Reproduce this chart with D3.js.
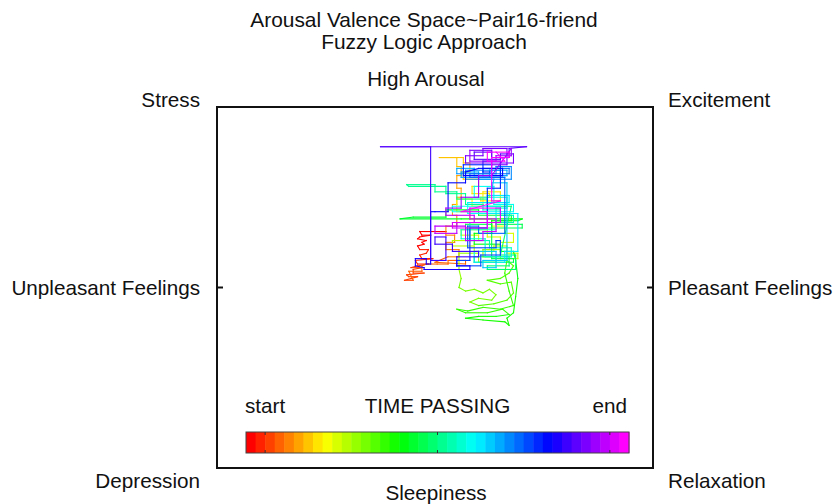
<!DOCTYPE html>
<html>
<head>
<meta charset="utf-8">
<script src="https://cdn.jsdelivr.net/npm/d3@7"></script>
<style>
  html, body { margin: 0; padding: 0; background: #fff; }
  svg { display: block; font-family: "Liberation Sans", Arial, Helvetica, sans-serif; }
</style>
</head>
<body>
<svg id="chart" width="837" height="504"></svg>
<script>
// Title lines and quadrant captions
const titleLines = ["Arousal Valence Space~Pair16-friend", "Fuzzy Logic Approach"];
const axisTop = "High Arousal";
const axisBottom = "Sleepiness";
const axisLeft = "Unpleasant Feelings";
const axisRight = "Pleasant Feelings";
const cornerLabels = ["Stress", "Excitement", "Depression", "Relaxation"];
const legendLabels = ["start", "TIME PASSING", "end"];
const legendTicks = [0.05, 0.5, 0.95];
const legendSteps = 40;

// Emotion trajectory: [valence, arousal] samples in time order
const phase1 = [
  [0.02,0.31],[0.05,0.31],[-0.07,0.31],[-0.06,0.29],[-0.02,0.29],[-0.07,0.28],
  [-0.08,0.27],[-0.04,0.26],[-0.06,0.25],[-0.05,0.24],[-0.08,0.23],[-0.07,0.21],
  [-0.03,0.21],[-0.04,0.19],[-0.07,0.18],[-0.06,0.16],[-0.01,0.16],[-0.09,0.15],
  [-0.08,0.13],[-0.03,0.13],[-0.08,0.12],[-0.11,0.11],[-0.06,0.11],[-0.10,0.10],
  [-0.10,0.08],[-0.05,0.08],[-0.13,0.07],[-0.12,0.06],[-0.08,0.06],[-0.11,0.05],
  [-0.14,0.04],[-0.10,0.04],[-0.12,0.09],[-0.06,0.09],[-0.06,0.12]
];
const phase2 = [
  [-0.04,0.13],[0.01,0.13],[0.06,0.13],[0.06,0.15],[0.14,0.15],[0.14,0.13],
  [0.00,0.14],[0.06,0.17],[0.11,0.17],[0.11,0.21],[0.05,0.21],[0.05,0.25],
  [0.09,0.25],[0.09,0.29],[0.05,0.29],[0.05,0.34],[0.10,0.34],[0.10,0.40],
  [0.08,0.40],[0.08,0.46],[0.10,0.46],[0.10,0.50],[0.12,0.50],[0.12,0.55],
  [0.10,0.55],[0.10,0.62],[0.12,0.62],[0.12,0.67],[0.10,0.67],[0.10,0.72],
  [0.02,0.72],[0.13,0.72],[0.13,0.69],[0.16,0.69],[0.16,0.64],[0.13,0.64]
];
const phase3 = [
  [0.13,0.60],[0.20,0.60],[0.20,0.56],[0.17,0.56],[0.17,0.52],[0.25,0.52],
  [0.25,0.50],[0.21,0.50],[0.21,0.48],[0.30,0.48],[0.30,0.53],[0.22,0.53],
  [0.22,0.45],[0.17,0.45],[0.17,0.49],[0.10,0.49],[0.10,0.42],[0.16,0.42],
  [0.16,0.38],[0.26,0.38],[0.26,0.34],[0.32,0.34],[0.32,0.30],[0.36,0.30],
  [0.36,0.25],[0.30,0.25],[0.30,0.28],[0.24,0.28],[0.24,0.32],[0.12,0.32],
  [0.12,0.29],[0.20,0.29],[0.20,0.26],[0.08,0.26],[0.08,0.23],[0.18,0.23],
  [0.18,0.20],[0.27,0.20],[0.27,0.23],[0.33,0.23],[0.33,0.19],[0.38,0.19],
  [0.38,0.16],[0.30,0.16],[0.30,0.21]
];
const phase4 = [
  [0.22,0.21],[0.22,0.17],[0.28,0.17],[0.28,0.14],[0.20,0.14],[0.20,0.19],
  [0.11,0.19],[0.11,0.10],[0.12,0.05],[0.11,0.00],[0.14,-0.02],[0.18,-0.01],
  [0.22,-0.03],[0.25,-0.01],[0.28,-0.04],[0.26,-0.07],[0.20,-0.06],[0.16,-0.08],
  [0.20,-0.10],[0.27,-0.09],[0.33,-0.07],[0.36,-0.03],[0.35,0.03],[0.30,0.02],
  [0.24,0.04],[0.30,0.05],[0.34,0.08],[0.36,0.12],[0.33,0.15],[0.32,0.08],
  [0.34,-0.02],[0.36,-0.10],[0.30,-0.12],[0.22,-0.11],[0.15,-0.13],[0.10,-0.12],
  [0.14,-0.14],[0.24,-0.14],[0.31,-0.12],[0.34,-0.15],[0.28,-0.16],[0.20,-0.16],
  [0.14,-0.17],[0.22,-0.18],[0.32,-0.19],[0.34,-0.21],[0.33,-0.17],[0.36,-0.14],
  [0.37,-0.05],[0.38,0.05],[0.37,0.15],[0.36,0.20],[0.30,0.20],[0.30,0.24],
  [0.18,0.24],[0.18,0.30],[0.26,0.30],[0.26,0.37],[0.38,0.37],[0.40,0.38],
  [0.12,0.38],[-0.16,0.38],[-0.10,0.39],[0.05,0.39],[0.05,0.43],[0.20,0.43],
  [0.20,0.40],[0.35,0.40],[0.35,0.37],[0.28,0.37],[0.28,0.35],[0.40,0.35],
  [0.40,0.33],[0.14,0.33],[0.14,0.35],[0.26,0.35],[0.26,0.16],[0.36,0.16],
  [0.36,0.14],[0.18,0.14],[0.18,0.17],[0.34,0.17],[0.34,0.12],[0.24,0.12],
  [0.24,0.10],[0.37,0.10],[0.37,0.18],[0.30,0.18]
];
const phase5 = [
  [0.35,0.45],[0.24,0.45],[0.24,0.49],[0.10,0.49],[0.10,0.53],[0.00,0.53],
  [0.00,0.57],[-0.13,0.57],[-0.12,0.56],[0.05,0.56],[0.05,0.52],[0.14,0.52],
  [0.14,0.46],[0.22,0.46],[0.22,0.43],[0.30,0.43],[0.30,0.40],[0.36,0.40],
  [0.36,0.36],[0.16,0.36],[0.16,0.26],[0.25,0.26],[0.25,0.22],[0.35,0.22],
  [0.35,0.17],[0.23,0.17],[0.23,0.27],[0.12,0.27],[0.12,0.32],[0.28,0.32],
  [0.28,0.44],[0.33,0.44],[0.33,0.50],[0.18,0.50],[0.18,0.56],[0.27,0.56],
  [0.27,0.46],[0.36,0.46],[0.36,0.42],[0.08,0.42],[0.08,0.45],[0.30,0.45],
  [0.30,0.41],[0.15,0.41],[0.15,0.47],[0.34,0.47],[0.34,0.51],[0.24,0.51],
  [0.24,0.41],[0.38,0.41],[0.38,0.20],[0.32,0.20],[0.32,0.14],[0.18,0.14],
  [0.18,0.20],[0.28,0.20],[0.28,0.11],[0.22,0.11],[0.22,0.15],[0.33,0.15],
  [0.33,0.58],[0.26,0.58],[0.26,0.54]
];
const phase6 = [
  [0.27,0.60],[0.20,0.60],[0.20,0.64],[0.12,0.64],[0.12,0.61],[0.25,0.61],
  [0.25,0.65],[0.33,0.65],[0.33,0.62],[0.18,0.62],[0.18,0.66],[0.10,0.66],
  [0.10,0.63],[0.28,0.63],[0.28,0.67],[0.35,0.67],[0.35,0.60],[0.14,0.60],
  [0.14,0.65],[0.30,0.65],[0.30,0.62],[0.22,0.62],[0.22,0.66],[0.34,0.66],
  [0.34,0.63],[0.16,0.63],[0.16,0.61],[0.32,0.61],[0.32,0.40],[0.32,0.30],
  [0.20,0.30],[0.20,0.34],[0.15,0.34],[0.15,0.22],[0.28,0.22],[0.28,0.26],
  [0.30,0.26],[0.30,0.18],[0.21,0.18],[0.21,0.12],[0.10,0.12],[0.10,0.15],
  [0.16,0.15],[0.16,0.33],[0.24,0.33],[0.24,0.55],[0.30,0.55],[0.30,0.70],
  [0.22,0.70],[0.22,0.64],[0.26,0.64],[0.26,0.68],[0.13,0.68],[0.13,0.62],
  [0.31,0.62],[0.31,0.66],[0.20,0.66]
];
const phase7 = [
  [0.14,0.64],[0.14,0.58],[0.06,0.58],[0.06,0.42],[0.00,0.42],[-0.02,0.42],
  [-0.02,0.13],[-0.04,0.13],[-0.04,0.16],[-0.09,0.16],[-0.09,0.12],[-0.05,0.11],
  [-0.05,0.10],[0.16,0.10],[0.16,0.12],[0.10,0.12],[0.10,0.17],[0.20,0.17],
  [0.20,0.20],[0.08,0.20],[0.08,0.24],[0.00,0.24],[0.00,0.28],[0.05,0.28],
  [0.05,0.15],[-0.02,0.15],[-0.02,0.78],[-0.25,0.78],[0.42,0.78],[0.34,0.77],
  [0.34,0.72],[0.26,0.72],[0.26,0.75]
];
const phase8 = [
  [0.18,0.75],[0.18,0.71],[0.30,0.71],[0.30,0.74],[0.36,0.74],[0.36,0.69],
  [0.14,0.69],[0.14,0.73],[0.22,0.73],[0.22,0.77],[0.33,0.77],[0.33,0.68],
  [0.26,0.68],[0.26,0.76],[0.16,0.76],[0.16,0.70],[0.28,0.70],[0.28,0.73],
  [0.35,0.73],[0.35,0.77],[0.26,0.62],[0.20,0.62],[0.20,0.50],[0.12,0.50],
  [0.12,0.44],[0.05,0.44],[0.05,0.40],[0.18,0.40],[0.18,0.36],[0.10,0.36],
  [0.10,0.30],[0.00,0.30],[0.00,0.34],[0.14,0.34],[0.14,0.26],[0.22,0.26],
  [0.22,0.31],[0.28,0.31],[0.28,0.38],[0.16,0.38],[0.16,0.44],[0.30,0.44],
  [0.30,0.36],[0.08,0.36],[0.08,0.33],[0.24,0.33],[0.24,0.42],[0.12,0.42],
  [0.30,0.48],[0.26,0.48],[0.26,0.72],[0.34,0.72],[0.34,0.75],[0.24,0.75],
  [0.24,0.70],[0.32,0.70],[0.28,0.75]
];

const track = [].concat(phase1, phase2, phase3, phase4, phase5, phase6, phase7, phase8);

const svg = d3.select("#chart");
const box = { left: 217, right: 653, top: 107, bottom: 468 };

const x = d3.scaleLinear().domain([-1, 1]).range([box.left, box.right]);
const y = d3.scaleLinear().domain([-1, 1]).range([box.bottom, box.top]);

// Time → hue, stepped like the legend bar (red → magenta)
const stepOf = t => Math.min(legendSteps - 1, Math.floor(t * legendSteps));
const hueScale = d3.scaleLinear().domain([0, legendSteps - 1]).range([0, 300]);
const stepColor = k => d3.hsl(hueScale(k), 1, 0.5).formatHex();

const FS = 20.7;

// Titles
svg.selectAll("text.title")
  .data(titleLines)
  .join("text")
  .attr("class", "title")
  .attr("x", 424)
  .attr("y", (d, i) => 27 + i * 22)
  .attr("text-anchor", "middle")
  .attr("font-size", 20.9)
  .attr("fill", "#111")
  .text(d => d);

// Trajectory segments coloured by elapsed time
const segs = d3.pairs(track).map((p, i) => ({ a: p[0], b: p[1], t: i / (track.length - 2) }));
svg.append("g")
  .selectAll("line")
  .data(segs)
  .join("line")
  .attr("x1", d => x(d.a[0]))
  .attr("y1", d => y(d.a[1]))
  .attr("x2", d => x(d.b[0]))
  .attr("y2", d => y(d.b[1]))
  .attr("stroke", d => stepColor(stepOf(d.t)))
  .attr("stroke-width", 1.1)
  .attr("stroke-linecap", "square");

// Frame
svg.append("rect")
  .attr("x", box.left).attr("y", box.top)
  .attr("width", box.right - box.left).attr("height", box.bottom - box.top)
  .attr("fill", "none").attr("stroke", "#111").attr("stroke-width", 2);

// Inner ticks at the neutral valence line
svg.append("line")
  .attr("x1", x(-1)).attr("x2", x(-1) + 6).attr("y1", y(0)).attr("y2", y(0))
  .attr("stroke", "#111").attr("stroke-width", 2);
svg.append("line")
  .attr("x1", x(1)).attr("x2", x(1) - 6).attr("y1", y(0)).attr("y2", y(0))
  .attr("stroke", "#111").attr("stroke-width", 2);

// Axis captions
const cap = (txt, px, py, anchor) => svg.append("text")
  .attr("x", px).attr("y", py)
  .attr("text-anchor", anchor)
  .attr("font-size", FS)
  .attr("fill", "#111")
  .text(txt);

cap(axisTop, 426, 86, "middle");
cap(axisBottom, 436, 500, "middle");
cap(axisLeft, x(-1) - 17, y(0) + 7, "end");
cap(axisRight, x(1) + 15, y(0) + 7, "start");
cap(cornerLabels[0], x(-1) - 17, 107, "end");
cap(cornerLabels[1], x(1) + 15, 107, "start");
cap(cornerLabels[2], x(-1) - 17, 488, "end");
cap(cornerLabels[3], x(1) + 15, 488, "start");

// Time legend
const lg = { left: 246, right: 629, top: 432, bottom: 453 };
const lx = d3.scaleLinear().domain([0, 1]).range([lg.left, lg.right]);
const band = d3.scaleBand().domain(d3.range(legendSteps)).range([lg.left, lg.right]);

svg.append("g")
  .selectAll("rect")
  .data(d3.range(legendSteps))
  .join("rect")
  .attr("x", d => band(d))
  .attr("y", lg.top)
  .attr("width", band.bandwidth() + 0.5)
  .attr("height", lg.bottom - lg.top)
  .attr("fill", d => stepColor(d));

svg.append("rect")
  .attr("x", lg.left).attr("y", lg.top)
  .attr("width", lg.right - lg.left).attr("height", lg.bottom - lg.top)
  .attr("fill", "none").attr("stroke", "#444").attr("stroke-width", 1);

legendTicks.forEach(t => {
  svg.append("line").attr("x1", lx(t)).attr("x2", lx(t))
    .attr("y1", lg.top).attr("y2", lg.top + 3).attr("stroke", "#333");
  svg.append("line").attr("x1", lx(t)).attr("x2", lx(t))
    .attr("y1", lg.bottom).attr("y2", lg.bottom - 3).attr("stroke", "#333");
});

cap(legendLabels[0], lg.left - 1, 413, "start");
cap(legendLabels[1], (lg.left + lg.right) / 2, 413, "middle");
cap(legendLabels[2], lg.right - 2, 413, "end");
</script>
</body>
</html>
